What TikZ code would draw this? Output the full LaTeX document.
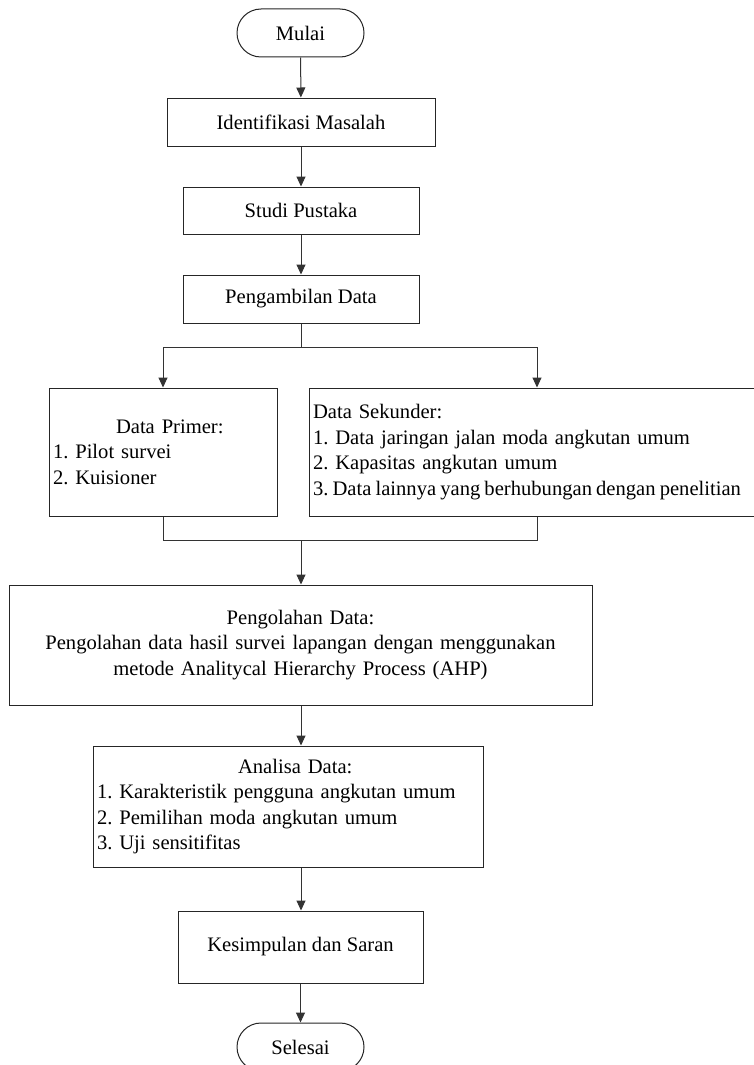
\documentclass[tikz,border=0pt]{standalone}
\usepackage{fontspec}
\setmainfont{Liberation Serif}
\usetikzlibrary{arrows.meta}
\frenchspacing
\hyphenpenalty=10000
\begin{document}
\begin{tikzpicture}[x=1pt,y=-1pt,
  every node/.style={font=\fontsize{20.6}{25.5}\selectfont},
  box/.style={draw=black!85, line width=1pt, rectangle, inner sep=0pt},
  term/.style={draw=black!85, line width=1pt, rectangle, rounded corners=24pt, minimum width=127pt, minimum height=48pt, inner sep=0pt},
  conn/.style={draw=black!80, line width=1pt},
  arr/.style={conn, -{Triangle[length=10pt,width=9pt]}}]
\useasboundingbox[fill=white] (0,0) rectangle (754,1065);

\node[term] (start) at (300.5,33) {Mulai};
\node[box, minimum width=268pt, minimum height=48pt] (ident) at (301,122) {Identifikasi Masalah};
\node[box, minimum width=236pt, minimum height=47pt] (studi) at (301,210.5) {Studi Pustaka};
\node[box, minimum width=236pt, minimum height=48pt] (ambil) at (301,299) {Pengambilan Data};

\node[box, minimum width=228pt, minimum height=128pt, text width=220pt, inner xsep=4pt, align=left] (prim) at (163,452)
  {\hspace*{63pt}Data Primer:\\1. Pilot survei\\2. Kuisioner};
\node[box, minimum width=456pt, minimum height=128pt, text width=448pt, inner xsep=4pt, align=left] (sek) at (537,452)
  {Data Sekunder:\\1. Data jaringan jalan moda angkutan umum\\2. Kapasitas angkutan umum\\\mbox{\spaceskip=0.2em 3. Data lainnya yang berhubungan dengan penelitian}};

\node[box, minimum width=583pt, minimum height=120pt, text width=575pt, inner xsep=4pt, align=center] (olah) at (300.5,645)
  {Pengolahan Data:\\Pengolahan data hasil survei lapangan dengan menggunakan\\metode Analitycal Hierarchy Process (AHP)};

\node[box, minimum width=390pt, minimum height=121pt, text width=382pt, inner xsep=4pt, align=left] (anal) at (288,806.5)
  {\hspace*{141pt}Analisa Data:\\1. Karakteristik pengguna angkutan umum\\2. Pemilihan moda angkutan umum\\3. Uji sensitifitas};

\node[box, minimum width=245pt, minimum height=72pt] (simpul) at (300.5,947) {Kesimpulan dan Saran};
\node[term] (end) at (300.5,1047) {Selesai};

\draw[arr] (start) -- (ident);
\draw[arr] (ident) -- (studi);
\draw[arr] (studi) -- (ambil);

\coordinate (split) at (301,347);
\coordinate (merge) at (301,540);
\draw[conn] (ambil.south) -- (split);
\draw[conn] (prim.north |- split) -- (sek.north |- split);
\draw[arr] (prim.north |- split) -- (prim.north);
\draw[arr] (sek.north |- split) -- (sek.north);

\draw[conn] (prim.south) -- (prim.south |- merge) -- (sek.south |- merge) -- (sek.south);
\draw[arr] (merge) -- (merge |- olah.north);

\draw[arr] (olah.south -| merge) -- (merge |- anal.north);
\draw[arr] (anal.south -| merge) -- (merge |- simpul.north);
\draw[arr] (simpul) -- (end);
\end{tikzpicture}
\end{document}
